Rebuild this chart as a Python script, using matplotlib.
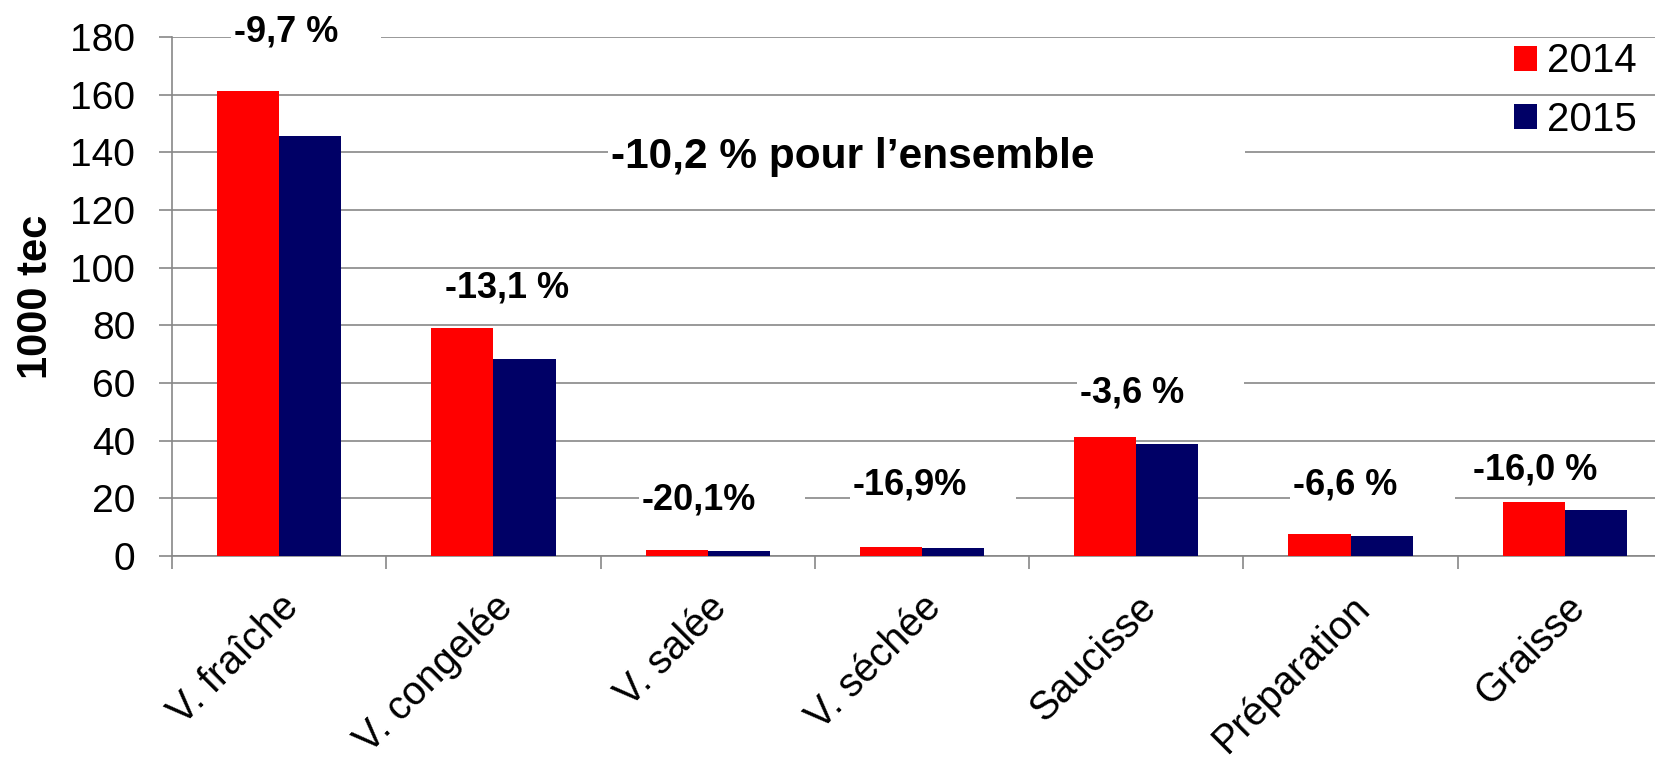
import numpy as np
import matplotlib
matplotlib.use("Agg")
import matplotlib.pyplot as plt
from matplotlib.patches import Rectangle
from matplotlib.transforms import IdentityTransform

plt.rcParams['font.family'] = ['Liberation Sans', 'DejaVu Sans']

categories = ["V. fraîche", "V. congelée", "V. salée", "V. séchée", "Saucisse", "Préparation", "Graisse"]
values_2014 = [161.1, 79.1, 2.1, 3.2, 41.1, 7.7, 18.6]
values_2015 = [145.8, 68.4, 1.75, 2.8, 38.9, 7.0, 15.8]
series_names = ["2014", "2015"]
change_labels = ["-9,7 %", "-13,1 %", "-20,1%", "-16,9%", "-3,6 %", "-6,6 %", "-16,0 %"]
total_label = "-10,2 % pour l\u2019ensemble"
yticks = [0, 20, 40, 60, 80, 100, 120, 140, 160, 180]

# label layout (x offset from category centre, baseline y, white-box extension in px)
lab_dx = [-0.211, -0.226, -0.307, -0.322, -0.263, -0.269, -0.429]
lab_y = [178.3, 89.5, 16.1, 21.4, 53.4, 21.4, 26.6]
lab_ext = [43, 7, 49, 49, 60, 58, None]

RED = "#FF0000"
NAVY = "#000066"
GRID = "#878787"

W, H = 1655, 761
fig = plt.figure(figsize=(W / 100, H / 100), dpi=100)
ax = fig.add_axes([172 / W, 1 - 556 / H, 1500 / W, (556 - 37) / H])

x = np.arange(len(categories))
bw = 0.29
ax.bar(x - bw / 2, values_2014, width=bw, color=RED, label=series_names[0], zorder=2)
ax.bar(x + bw / 2, values_2015, width=bw, color=NAVY, label=series_names[1], zorder=2)

ax.set_xlim(-0.5, len(categories) - 0.5)
ax.set_ylim(0, 180)
ax.set_autoscale_on(False)
ax.set_yticks(yticks)
ax.set_yticklabels([str(v) for v in yticks], fontsize=28)
ax.yaxis.grid(True, color=GRID, linewidth=1.2, zorder=0)
ax.set_axisbelow(True)

for s in ["top", "right"]:
    ax.spines[s].set_visible(False)
for s in ["left", "bottom"]:
    ax.spines[s].set_color(GRID)
    ax.spines[s].set_linewidth(1.2)
    ax.spines[s].set_zorder(1)

ax.tick_params(axis="y", direction="out", length=9.5, width=1.2, color=GRID, pad=17)
ax.set_xticks(x)
ax.set_xticklabels(categories, fontsize=28.5, rotation=45, ha="right", va="top",
                   rotation_mode="anchor")
ax.tick_params(axis="x", which="major", length=0, pad=23)
ax.set_xticks(np.arange(-0.5, len(categories), 1), minor=True)
ax.tick_params(axis="x", which="minor", direction="out", length=9.5, width=1.2, color=GRID)

ax.set_ylabel("1000 tec", fontsize=30, fontweight="bold")
ax.yaxis.label.set_va("center")
ax.yaxis.set_label_coords((36 - 172) / 1500, 0.5)

texts = []
exts = []
for i, (lab, dx, yy, ext) in enumerate(zip(change_labels, lab_dx, lab_y, lab_ext)):
    t = ax.text(i + dx, yy, lab, fontsize=26, fontweight="bold", color="black",
                ha="left", va="baseline", zorder=4)
    texts.append(t)
    exts.append(ext)

t = ax.text(1.549, 134.5, total_label, fontsize=30.5, fontweight="bold", color="black",
            ha="left", va="baseline", zorder=4)
texts.append(t)
exts.append(150)

leg = fig.legend(loc="center right", bbox_to_anchor=(1637 / W, 1 - 90.5 / H),
                 fontsize=29, frameon=False, handlelength=0.58, handleheight=0.58,
                 handletextpad=0.25, labelspacing=0.5, borderpad=0, borderaxespad=0)

# white boxes behind the labels that interrupt the gridlines (below the bars)
fig.canvas.draw()
renderer = fig.canvas.get_renderer()
for t, ext in zip(texts, exts):
    if ext is None:
        continue
    bb = t.get_window_extent(renderer)
    r = Rectangle((bb.x0 - 3, bb.y0 - 2), bb.width + ext + 3, bb.height + 4,
                  transform=IdentityTransform(), facecolor="white", edgecolor="none",
                  zorder=1.5, clip_on=False)
    ax.add_artist(r)

fig.savefig("out.png", dpi=100)
